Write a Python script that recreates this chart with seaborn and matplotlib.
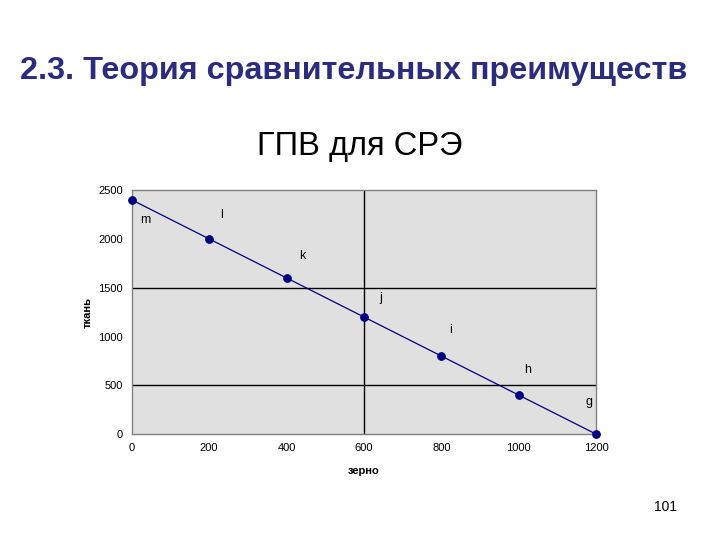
import numpy as np
import pandas as pd
import seaborn as sns
import matplotlib.pyplot as plt

# production possibilities data
grain = [0, 200, 400, 600, 800, 1000, 1200]
cloth = [2400, 2000, 1600, 1200, 800, 400, 0]
point_names = ['m', 'l', 'k', 'j', 'i', 'h', 'g']
label_x = [34, 233, 440, 644, 825, 1024, 1182]
label_y = [2193, 2244, 1824, 1393, 1066, 656, 328]

df = pd.DataFrame({'зерно': grain, 'ткань': cloth})

sns.set_style('white')
plt.rcParams['font.family'] = ['Liberation Sans', 'DejaVu Sans']
plt.rcParams['text.color'] = 'black'

fig = plt.figure(figsize=(7.2, 5.4), dpi=100)
ax = fig.add_axes([0.183, 0.196, 0.645, 0.452])
ax.set_facecolor('#e0e0e0')

ax.axhline(500, color='black', lw=1, zorder=1)
ax.axhline(1500, color='black', lw=1, zorder=1)
ax.axvline(600, color='black', lw=1, zorder=1)

sns.lineplot(data=df, x='зерно', y='ткань', ax=ax, color='#000080',
             marker='o', markersize=5.5, markeredgecolor='#000080',
             linewidth=0.9, zorder=3, clip_on=False)

for name, x, y in zip(point_names, label_x, label_y):
    ax.text(x, y, name, fontsize=9, ha='center', va='center', color='black')

ax.set_xlim(0, 1200)
ax.set_ylim(0, 2500)
ax.set_xticks(range(0, 1201, 200))
ax.set_yticks(range(0, 2501, 500))
ax.tick_params(labelsize=8, length=3, colors='black')
for sp in ax.spines.values():
    sp.set_color('#808080')
    sp.set_linewidth(1)
ax.set_xlabel('зерно', fontsize=8, fontweight='bold', labelpad=9, color='black')
ax.set_ylabel('ткань', fontsize=8, fontweight='bold', labelpad=4, color='black')

fig.text(0.028, 0.868, '2.3. Теория сравнительных преимуществ', fontsize=23.3,
         fontweight='bold', color='#2b2b7f', va='center')
fig.text(0.5, 0.728, 'ГПВ для СРЭ', fontsize=23.5, ha='center', va='center')
fig.text(0.94, 0.062, '101', fontsize=10, ha='right', va='center')

fig.savefig('out.png', dpi=100)
